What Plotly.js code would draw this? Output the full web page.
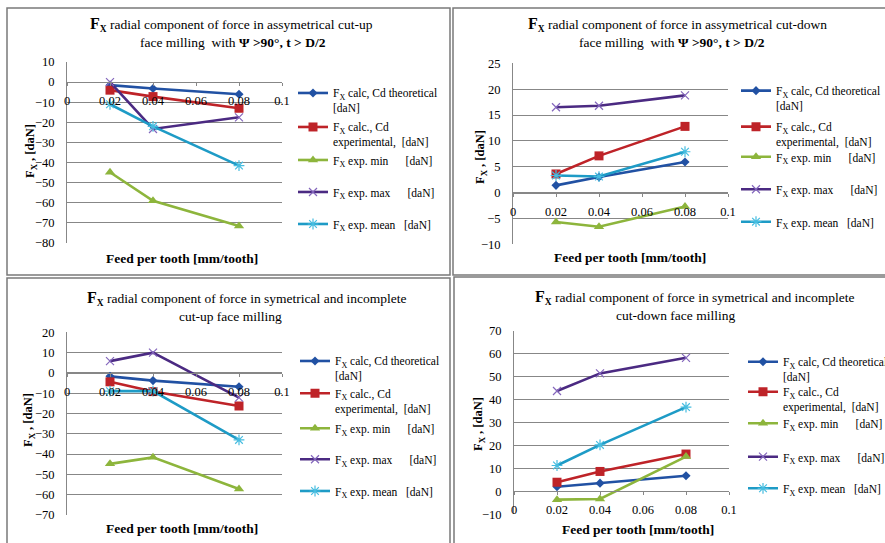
<!DOCTYPE html>
<html><head><meta charset="utf-8">
<script src="https://cdn.plot.ly/plotly-3.0.1.min.js"></script>
<style>html,body{margin:0;padding:0;background:#fff}#chart{width:885px;height:543px}</style>
</head><body><div id="chart"></div>
<script>
// ---- data ----
const feed = [0.02, 0.04, 0.08];
const xTickVals = [0, 0.02, 0.04, 0.06, 0.08, 0.1];
const xTickText = ['0', '0.02', '0.04', '0.06', '0.08', '0.1'];

// top-left: assymetrical cut-up
const tlTheor = [-1.5, -3.2, -6];
const tlExper = [-4, -7.2, -13];
const tlMin = [-44.8, -59, -71.5];
const tlMax = [0, -23.3, -17.5];
const tlMean = [-11, -22, -41.5];

// top-right: assymetrical cut-down
const trTheor = [1.4, 3, 5.9];
const trExper = [3.6, 7.1, 12.8];
const trMin = [-5.7, -6.6, -2.7];
const trMax = [16.5, 16.8, 18.8];
const trMean = [3.3, 3.1, 7.9];

// bottom-left: symetrical incomplete cut-up
const blTheor = [-1.7, -3.8, -6.8];
const blExper = [-4.4, -9.2, -16.3];
const blMin = [-44.8, -41.6, -57.2];
const blMax = [5.8, 10, -12.2];
const blMean = [-9, -9, -33];

// bottom-right: symetrical incomplete cut-down
const brTheor = [2, 3.6, 6.8];
const brExper = [4, 8.7, 16.3];
const brMin = [-3.6, -3.3, 15.2];
const brMax = [43.8, 51.5, 58.3];
const brMean = [11.3, 20.3, 36.8];

const titles = [
  ["<b><span style='font-size:16px'>F</span><sub>X</sub></b> radial component of force in assymetrical cut-up",
   "face milling  with <b>Ψ >90°, t > D/2</b>"],
  ["<b><span style='font-size:16px'>F</span><sub>X</sub></b> radial component of force in assymetrical cut-down",
   "face milling  with <b>Ψ >90°, t > D/2</b>"],
  ["<b><span style='font-size:16px'>F</span><sub>X</sub></b> radial component of force in symetrical and incomplete",
   "cut-up face milling"],
  ["<b><span style='font-size:16px'>F</span><sub>X</sub></b> radial component of force in symetrical and incomplete",
   "cut-down face milling"]
];
const xTitle = "<b>Feed per tooth [mm/tooth]</b>";
const yTitle = "<b>F<sub>X</sub> , [daN]</b>";
const NB = '\u00A0';
const seriesNames = [
  "F<sub>X</sub> calc, Cd theoretical<br>[daN]",
  "F<sub>X</sub> calc., Cd<br>experimental," + NB + NB + "[daN]",
  "F<sub>X</sub> exp. min" + NB.repeat(6) + "[daN]",
  "F<sub>X</sub> exp. max" + NB.repeat(6) + "[daN]",
  "F<sub>X</sub> exp. mean" + NB.repeat(3) + "[daN]"
];

// ---- layout helpers (pixel -> paper) ----
const W = 885, H = 543;
const fx = p => p / W;
const fy = p => 1 - p / H;

const panels = [
  {data: [tlTheor, tlExper, tlMin, tlMax, tlMean], x: [67, 282], y: [62, 243], range: [-80, 10], dtick: 10,
   t1: [231, 25], t2: [233, 42], xt: [182, 258], yt: [31, 151], leg: [333, [93, 127, 160, 192, 224]]},
  {data: [trTheor, trExper, trMin, trMax, trMean], x: [513, 728], y: [63.3, 244.3], range: [-10, 25], dtick: 5,
   t1: [677, 25], t2: [672, 42.5], xt: [630, 257], yt: [481, 157], leg: [776, [90.7, 126.7, 156.7, 189.3, 221.7]]},
  {data: [blTheor, blExper, blMin, blMax, blMean], x: [67, 282], y: [332.3, 515], range: [-70, 20], dtick: 10,
   t1: [247, 298], t2: [230, 316], xt: [182, 528], yt: [29, 420], leg: [335, [361, 393.3, 428.3, 459.3, 491]]},
  {data: [brTheor, brExper, brMin, brMax, brMean], x: [514, 729], y: [331, 514.3], range: [-10, 70], dtick: 10,
   t1: [695, 297], t2: [675.5, 315], xt: [638, 529], yt: [479, 424], leg: [783, [361.7, 391.7, 423.3, 456.7, 488.3]]}
];

const styles = [
  {line: '#2151A3', marker: {symbol: 'diamond', size: 7, color: '#2151A3'}},
  {line: '#BE2328', marker: {symbol: 'square', size: 9, color: '#BE2328'}},
  {line: '#8DB53C', marker: {symbol: 'triangle-up', size: 9, color: '#8DB53C'}},
  {line: '#4B2A82', marker: {symbol: 'x-thin-open', size: 8, color: '#8466BC', line: {width: 1.2, color: '#8466BC'}}},
  {line: '#1E9BC6', marker: {symbol: 'asterisk-open', size: 9, color: '#46BDE0', line: {width: 1.2, color: '#46BDE0'}}}
];

const serif = 'Liberation Serif';
const gridC = '#878787';
const traces = [];
const layout = {
  width: W, height: H,
  margin: {l: 0, r: 0, t: 0, b: 0, autoexpand: false},
  paper_bgcolor: '#fff', plot_bgcolor: '#fff',
  font: {family: serif, color: '#000'},
  showlegend: true,
  annotations: [], shapes: []
};

let legIdx = 0;
panels.forEach((p, i) => {
  const n = i === 0 ? '' : String(i + 1);
  const xd = [fx(p.x[0]), fx(p.x[1])];
  const yd = [fy(p.y[1]), fy(p.y[0])];
  const zeroPos = yd[0] + (0 - p.range[0]) / (p.range[1] - p.range[0]) * (yd[1] - yd[0]);
  layout['xaxis' + n] = {
    domain: xd, anchor: 'free', position: zeroPos, range: [0, 0.1],
    tickmode: 'array', tickvals: xTickVals, ticktext: xTickText,
    showgrid: false, zeroline: false, showline: true, linecolor: gridC, linewidth: 1,
    ticks: 'outside', ticklen: 3, tickcolor: gridC, ticklabelstandoff: 4,
    tickfont: {family: serif, size: 12.5, color: '#000'}, fixedrange: true
  };
  layout['yaxis' + n] = {
    domain: yd, anchor: 'x' + n, range: p.range, dtick: p.dtick, tick0: 0,
    showgrid: true, gridcolor: gridC, gridwidth: 1, zeroline: false,
    showline: true, linecolor: gridC, linewidth: 1, ticks: '', ticklabelstandoff: 9,
    tickfont: {family: serif, size: 12.5, color: '#000'}, fixedrange: true
  };
  p.data.forEach((vals, k) => {
    legIdx += 1;
    const lname = legIdx === 1 ? 'legend' : 'legend' + legIdx;
    const s = styles[k];
    traces.push({
      type: 'scatter', mode: 'lines+markers', x: feed, y: vals,
      xaxis: 'x' + n, yaxis: 'y' + n, name: seriesNames[k], legend: lname,
      line: {color: s.line, width: 2.6}, marker: s.marker, cliponaxis: false
    });
    layout[lname] = {
      x: fx(p.leg[0] - 40), y: fy(p.leg[1][k] - 14), xanchor: 'left', yanchor: 'top',
      bgcolor: 'rgba(0,0,0,0)', borderwidth: 0, valign: 'top',
      font: {family: serif, size: 11.5, color: '#000'}
    };
  });
  const tf = {family: serif, size: 13.5, color: '#000'};
  layout.annotations.push(
    {xref: 'paper', yref: 'paper', x: fx(p.t1[0]), y: fy(p.t1[1]), text: titles[i][0], showarrow: false, xanchor: 'center', yanchor: 'middle', font: tf},
    {xref: 'paper', yref: 'paper', x: fx(p.t2[0]), y: fy(p.t2[1]), text: titles[i][1], showarrow: false, xanchor: 'center', yanchor: 'middle', font: tf},
    {xref: 'paper', yref: 'paper', x: fx(p.xt[0]), y: fy(p.xt[1]), text: xTitle, showarrow: false, xanchor: 'center', yanchor: 'middle', font: {family: serif, size: 13.5, color: '#000'}},
    {xref: 'paper', yref: 'paper', x: fx(p.yt[0]), y: fy(p.yt[1]), text: yTitle, showarrow: false, textangle: -90, xanchor: 'center', yanchor: 'middle', font: {family: serif, size: 12.5, color: '#000'}}
  );
});

// panel frames
const frames = [[7, 8, 450, 275], [453, 8, 890, 275], [7, 278, 450, 550], [454, 277, 890, 550]];
frames.forEach(f => {
  layout.shapes.push({type: 'rect', xref: 'paper', yref: 'paper', x0: fx(f[0]), x1: fx(f[2]), y0: fy(f[1]), y1: fy(f[3]),
    line: {color: '#7a7a7a', width: 1.5}, fillcolor: 'rgba(0,0,0,0)', layer: 'below'});
});

Plotly.newPlot('chart', traces, layout, {displayModeBar: false, staticPlot: true});
</script></body></html>
